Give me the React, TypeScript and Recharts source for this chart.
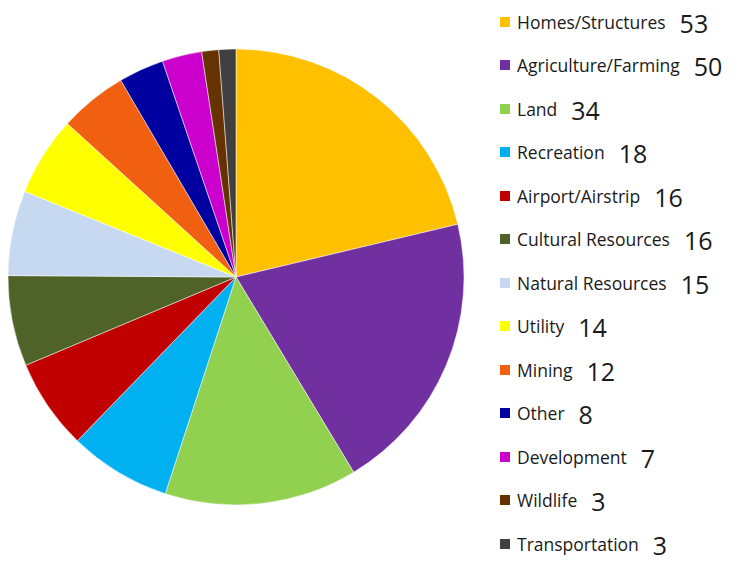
import { PieChart, Pie, Cell } from "recharts";

const CATEGORIES = [
  "Homes/Structures",
  "Agriculture/Farming",
  "Land",
  "Recreation",
  "Airport/Airstrip",
  "Cultural Resources",
  "Natural Resources",
  "Utility",
  "Mining",
  "Other",
  "Development",
  "Wildlife",
  "Transportation",
];

const COUNTS = [53, 50, 34, 18, 16, 16, 15, 14, 12, 8, 7, 3, 3];

const COLORS = [
  "#FFC000",
  "#7030A0",
  "#92D050",
  "#00B0F0",
  "#C00000",
  "#4F6228",
  "#C6D9F1",
  "#FFFF00",
  "#F06010",
  "#0000A0",
  "#CC00CC",
  "#663300",
  "#404040",
];

const rows = CATEGORIES.map((name, i) => ({
  name,
  value: COUNTS[i],
  color: COLORS[i],
}));

const FONT = "'Open Sans', 'Noto Sans', sans-serif";

function SideLegend() {
  return (
    <div
      style={{
        position: "absolute",
        left: 500,
        top: 0,
        fontFamily: FONT,
        color: "#1a1a1a",
      }}
    >
      {rows.map((r) => (
        <div
          key={r.name}
          style={{
            height: 43.5,
            display: "flex",
            alignItems: "center",
          }}
        >
          <span
            style={{
              display: "inline-block",
              width: 10,
              height: 10,
              backgroundColor: r.color,
              marginRight: 7,
            }}
          />
          <span style={{ fontSize: 17.5, lineHeight: "20px" }}>{r.name}</span>
          <span
            style={{
              fontSize: 25,
              lineHeight: "22px",
              marginLeft: 14,
              position: "relative",
              top: 1,
            }}
          >
            {r.value}
          </span>
        </div>
      ))}
    </div>
  );
}

export default function App() {
  return (
    <div
      style={{
        position: "absolute",
        left: 0,
        top: 0,
        width: 742,
        height: 564,
        overflow: "hidden",
        background: "#ffffff",
      }}
    >
      <PieChart
        width={480}
        height={564}
        margin={{ top: 0, right: 0, bottom: 0, left: 0 }}
      >
        <Pie
          data={rows}
          dataKey="value"
          nameKey="name"
          cx={236}
          cy={277}
          outerRadius={228}
          startAngle={90}
          endAngle={-270}
          stroke="#ffffff"
          strokeWidth={0.5}
          isAnimationActive={false}
        >
          {rows.map((r) => (
            <Cell key={r.name} fill={r.color} />
          ))}
        </Pie>
      </PieChart>
      <SideLegend />
    </div>
  );
}
